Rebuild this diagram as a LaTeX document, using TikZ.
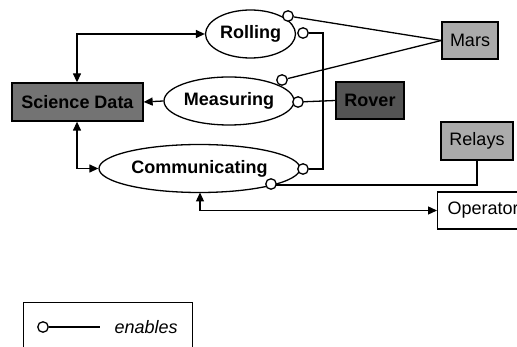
\documentclass[tikz,border=0pt]{standalone}
\usepackage{fontspec}
\setmainfont{Liberation Sans}
\usetikzlibrary{shapes.geometric,arrows.meta}
\definecolor{sdfill}{gray}{0.45}
\definecolor{roverfill}{gray}{0.33}
\definecolor{lightfill}{gray}{0.67}
\begin{document}
\begin{tikzpicture}[x=1pt,y=-1pt,
  every node/.style={font=\fontsize{18}{21}\selectfont},
  boxnode/.style={draw, line width=1.3pt, inner sep=0pt, font=\fontsize{18}{21}\selectfont\bfseries},
  proc/.style={ellipse, draw, line width=1.3pt, inner sep=0pt, fill=white, font=\fontsize{18}{21}\selectfont\bfseries},
  enab/.style={circle, draw, line width=1.3pt, fill=white, inner sep=0pt, minimum size=10.5pt},
  conn/.style={line width=1.3pt},
  biarrow/.style={conn, {Triangle[length=9pt,width=8pt]}-{Triangle[length=9pt,width=8pt]}},
  onearrow/.style={conn, -{Triangle[length=9pt,width=8pt]}}
]
\useasboundingbox (0,0) rectangle (517,347);

% object boxes
\node[boxnode, fill=sdfill, minimum width=131pt, minimum height=38pt] (sd) at (77.5,102) {Science Data};
\node[boxnode, fill=lightfill, minimum width=56pt, minimum height=37pt] (mars) at (470,40.5) {\mdseries Mars};
\node[boxnode, fill=roverfill, minimum width=68pt, minimum height=37pt] (rover) at (370,100.5) {Rover};
\node[boxnode, fill=lightfill, minimum width=72pt, minimum height=38pt] (relays) at (477,141) {\mdseries Relays};
\node[draw, line width=1.3pt, fill=white, anchor=west, minimum height=37pt, text width=80pt, inner xsep=10pt, align=left] (op) at (437,210.5) {Operator};

% processes
\node[proc, minimum width=90pt, minimum height=48pt] (roll) at (250.5,34) {Rolling};
\node[proc, minimum width=130pt, minimum height=48pt] (meas) at (229,101) {Measuring};
\node[proc, minimum width=201pt, minimum height=48pt] (comm) at (199.5,168.5) {Communicating};

% helper coordinates
\coordinate (sdtop) at (77,83);
\coordinate (sdbot) at (77,121);
\coordinate (kroll) at (77,34);
\coordinate (kcomm) at (77,168.5);
\coordinate (cbot) at (200,192.5);
\coordinate (kop) at (200,210.5);
\coordinate (vtop) at (323,33);
\coordinate (vbot) at (323,169);

% structural arrows
\draw[biarrow] (sd.north -| sdtop) -- (kroll) -- (roll.west);
\draw[biarrow] (sd.south -| sdbot) -- (kcomm) -- (comm.west);
\draw[onearrow] (meas.west) -- (sd.east);
\draw[biarrow] (cbot) -- (kop) -- (op.west);

% enabling links
\node[enab] (e1) at (288,16) {};
\node[enab] (e2) at (303,33) {};
\node[enab] (e3) at (282,80) {};
\node[enab] (e4) at (298,102) {};
\node[enab] (e5) at (303,169) {};
\node[enab] (e6) at (271,184) {};
\draw[conn] (e1) -- (mars.west);
\draw[conn] (e3) -- (mars.west);
\draw[conn] (e2) -- (vtop) -- (vbot) -- (e5);
\draw[conn] (e4) -- (rover.west);
\draw[conn] (e6.east) -- ++(0,1) -| (relays.south);

% legend
\node[draw, line width=1.3pt, anchor=north west, minimum width=169pt, minimum height=70pt] (legend) at (23,302) {};
\node[enab] (le) at (43,327) {};
\coordinate (lend) at (100,327);
\draw[conn] (le) -- (lend);
\node[anchor=west, font=\fontsize{18}{21}\selectfont\itshape] (ltext) at (111,327) {enables};
\end{tikzpicture}
\end{document}
